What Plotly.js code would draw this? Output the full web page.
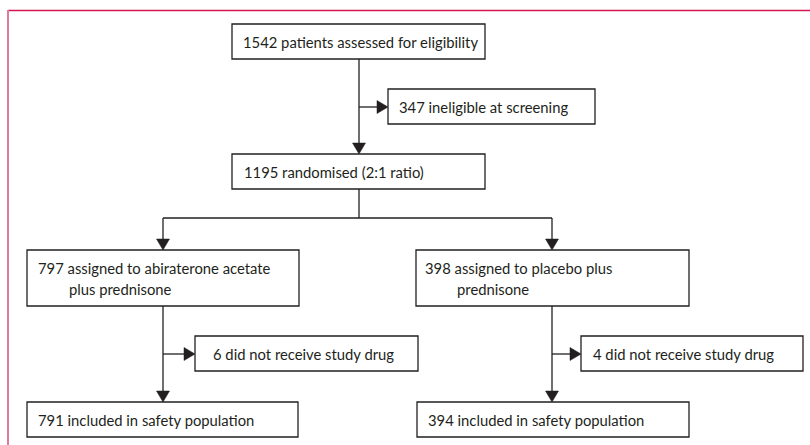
<!DOCTYPE html>
<html>
<head>
<meta charset="utf-8">
<script src="https://cdn.plot.ly/plotly-3.0.1.min.js"></script>
<style>html,body{margin:0;padding:0;background:#fff;}#chart{width:810px;height:445px;}</style>
</head>
<body>
<div id="chart"></div>
<script>
// ---- Data: flow counts and their descriptions ----
const stageCounts = [1542, 347, 1195, 797, 398, 6, 4, 791, 394];
const stageLine1 = [
  "patients assessed for eligibility",
  "ineligible at screening",
  "randomised (2:1 ratio)",
  "assigned to abiraterone acetate",
  "assigned to placebo plus",
  "did not receive study drug",
  "did not receive study drug",
  "included in safety population",
  "included in safety population"
];
const stageLine2 = ["", "", "", "plus prednisone", "prednisone", "", "", "", ""];

// ---- Layout geometry (pixel space, y downward) ----
const boxes = [
  {x0:232, x1:485, y0:24,  y1:59,  tx:240.5, ty:[41.5], indent:0},
  {x0:388, x1:595, y0:89,  y1:124, tx:396.5, ty:[106.5], indent:0},
  {x0:232, x1:485, y0:154, y1:189, tx:241.5, ty:[171.5], indent:0},
  {x0:27,  x1:299, y0:250, y1:306, tx:35.5,  ty:[268, 289], indent:66.5},
  {x0:416, x1:689, y0:250, y1:306, tx:423,   ty:[268, 289], indent:455},
  {x0:195, x1:418, y0:336, y1:371, tx:210.5, ty:[353.5], indent:0},
  {x0:581, x1:803, y0:336, y1:371, tx:590.5, ty:[353.5], indent:0},
  {x0:27,  x1:298, y0:402, y1:437, tx:35.5,  ty:[419.5], indent:0},
  {x0:417, x1:689, y0:402, y1:437, tx:425.5, ty:[419.5], indent:0}
];

const ink = "#231f20";
const FONT = {family: "Lato, 'Open Sans', sans-serif", size: 14.8, color: ink};
const shapes = [];
const annotations = [];

// frame
shapes.push({type:"line", x0:8, x1:810, y0:10.5, y1:10.5, line:{color:"#d21650", width:1.6}});
shapes.push({type:"line", x0:8, x1:8, y0:10, y1:445, line:{color:"#e07a9c", width:2}});

// boxes + text
boxes.forEach((b, i) => {
  shapes.push({type:"rect", x0:b.x0, x1:b.x1, y0:b.y0, y1:b.y1, line:{color:ink, width:1.3}, fillcolor:"rgba(0,0,0,0)"});
  annotations.push({x:b.tx, y:b.ty[0], xanchor:"left", yanchor:"middle", showarrow:false,
    text: stageCounts[i] + " " + stageLine1[i], font: FONT});
  if (stageLine2[i]) {
    annotations.push({x:b.indent, y:b.ty[1], xanchor:"left", yanchor:"middle", showarrow:false,
      text: stageLine2[i], font: FONT});
  }
});

function vline(x, y0, y1){ shapes.push({type:"line", x0:x, x1:x, y0:y0, y1:y1, line:{color:ink, width:1.3}}); }
function hline(y, x0, x1){ shapes.push({type:"line", x0:x0, x1:x1, y0:y, y1:y, line:{color:ink, width:1.3}}); }
function downArrow(x, tip){ shapes.push({type:"path", path:`M ${x-6.5},${tip-11} L ${x+6.5},${tip-11} L ${x},${tip} Z`, fillcolor:ink, line:{color:ink, width:0.5}}); }
function rightArrow(tip, y){ shapes.push({type:"path", path:`M ${tip-11},${y-6.5} L ${tip-11},${y+6.5} L ${tip},${y} Z`, fillcolor:ink, line:{color:ink, width:0.5}}); }

// connectors
vline(359, 59, 150); downArrow(359, 154);
hline(107, 359, 380); rightArrow(388, 107);
vline(359, 189, 218);
hline(218, 163, 552);
vline(163, 218, 245); downArrow(163, 250);
vline(552, 218, 245); downArrow(552, 250);
vline(163, 306, 398); downArrow(163, 402);
hline(354, 163, 187); rightArrow(195, 354);
vline(552, 306, 398); downArrow(552, 402);
hline(354, 552, 573); rightArrow(581, 354);

const layout = {
  width: 810, height: 445,
  margin: {l:0, r:0, t:0, b:0},
  paper_bgcolor: "#fff", plot_bgcolor: "#fff",
  xaxis: {range:[0,810], visible:false, fixedrange:true},
  yaxis: {range:[445,0], visible:false, fixedrange:true},
  shapes: shapes,
  annotations: annotations,
  showlegend: false
};

Plotly.newPlot("chart", [{x:[], y:[], type:"scatter", mode:"markers", hoverinfo:"skip"}], layout, {staticPlot:true, displayModeBar:false});
</script>
</body>
</html>
